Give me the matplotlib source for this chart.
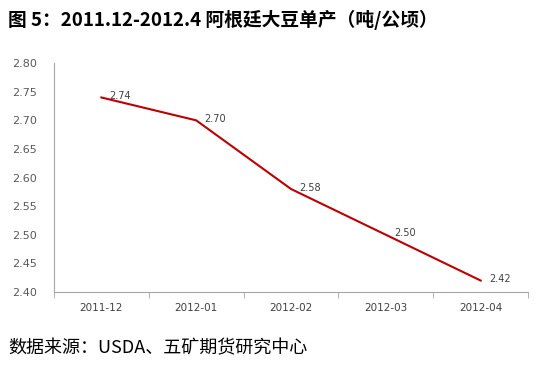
import matplotlib
matplotlib.use("Agg")
import matplotlib.pyplot as plt
from matplotlib.ticker import FixedLocator, NullFormatter

plt.rcParams['font.family'] = ['Noto Sans CJK SC', 'DejaVu Sans']

categories = ["2011-12", "2012-01", "2012-02", "2012-03", "2012-04"]
values = [2.74, 2.70, 2.58, 2.50, 2.42]
yticks = [2.40, 2.45, 2.50, 2.55, 2.60, 2.65, 2.70, 2.75, 2.80]

fig = plt.figure(figsize=(5.45, 3.65), dpi=100)
ax = fig.add_axes([0.099, 0.2, 0.87, 0.627])

x = list(range(len(categories)))
ax.plot(x, values, color='#C00000', lw=1.5)
for xi, v in zip(x, values):
    ax.annotate(f"{v:.2f}", (xi, v), xytext=(6, 1), textcoords='offset points',
                fontsize=7, color='#404040', va='center', ha='left',
                family=['DejaVu Sans'])

ax.set_xlim(-0.5, len(categories) - 0.5)
ax.set_ylim(2.40, 2.80)
ax.set_yticks(yticks)
ax.set_yticklabels([f"{t:.2f}" for t in yticks], fontsize=8, color='#595959', family=['DejaVu Sans'])
ax.tick_params(axis='y', length=0, pad=12)

ax.xaxis.set_major_locator(FixedLocator(x))
ax.set_xticklabels(categories, fontsize=7.5, color='#404040', family=['DejaVu Sans'])
ax.tick_params(axis='x', which='major', length=0, pad=8)
ax.xaxis.set_minor_locator(FixedLocator([i - 0.5 for i in range(len(categories) + 1)]))
ax.xaxis.set_minor_formatter(NullFormatter())
ax.tick_params(axis='x', which='minor', length=4, color='#A6A6A6', direction='out')

for s in ['top', 'right']:
    ax.spines[s].set_visible(False)
ax.spines['left'].set_color('#A6A6A6')
ax.spines['bottom'].set_color('#A6A6A6')

fig.text(0.015, 0.945, "图 5：2011.12-2012.4 阿根廷大豆单产（吨/公顷）", fontsize=13.5,
         fontweight='bold', ha='left', va='center')
fig.text(0.015, 0.045, "数据来源：USDA、五矿期货研究中心", fontsize=13,
         ha='left', va='center')

fig.savefig("out.png", dpi=100)
